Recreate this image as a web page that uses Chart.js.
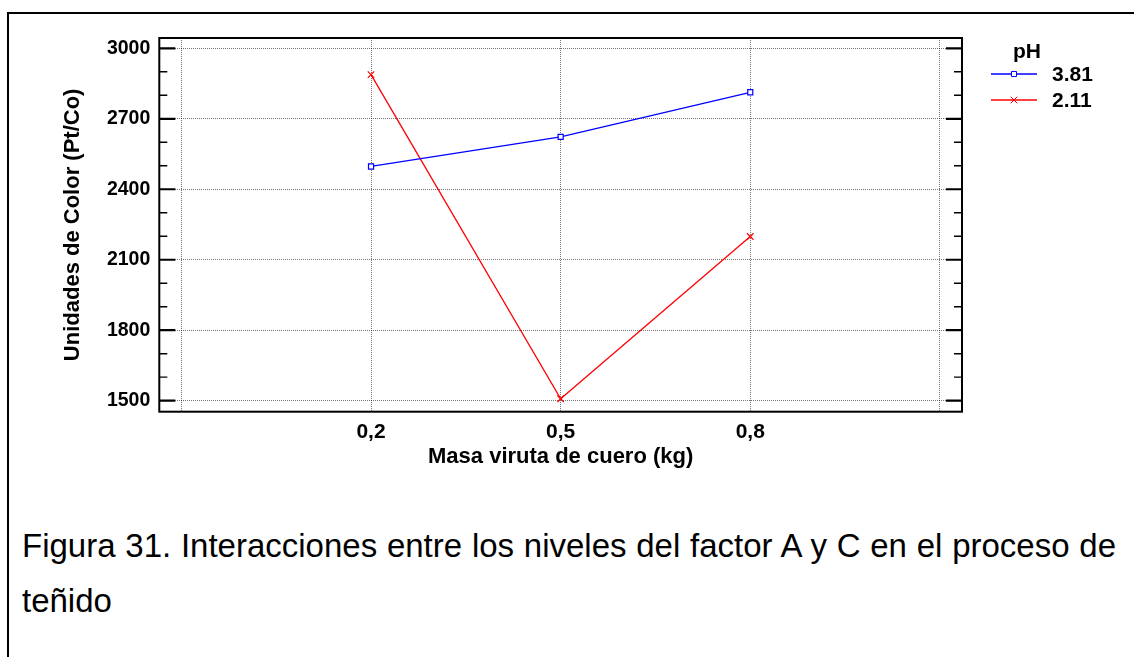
<!DOCTYPE html>
<html>
<head>
<meta charset="utf-8">
<script src="https://cdn.jsdelivr.net/npm/chart.js@4.4.1/dist/chart.umd.min.js"></script>
<style>
    html, body { margin: 0; padding: 0; background: #fff; }
    body { width: 1134px; height: 657px; position: relative; overflow: hidden; font-family: "Liberation Sans", Arial, sans-serif; }
    #frame { position: absolute; left: 7px; top: 12px; width: 1300px; height: 800px; border: 2px solid #000; }
    #wrap { position: absolute; left: 0; top: 0; width: 1134px; height: 480px; }
    #caption { position: absolute; left: 22px; top: 518px; width: 1094px; font-size: 33px; line-height: 55px; text-align: justify; color: #000; }
</style>
</head>
<body>
<div id="frame"></div>
<div id="wrap"><canvas id="interChart" width="1134" height="480"></canvas></div>
<div id="caption">Figura 31. Interacciones entre los niveles del factor A y C en el proceso de teñido</div>
<script>
// niveles del factor (masa de viruta, kg)
var masaLevels = [0.2, 0.5, 0.8];
var masaLabels = ['0,2', '0,5', '0,8'];
var xGridValues = [-0.1, 0.2, 0.5, 0.8, 1.1];

// unidades de color por nivel de pH
var ph381 = [2497, 2623, 2813];
var ph211 = [2888, 1508, 2199];
var seriesNames = ['3.81', '2.11'];

var yMajorTicks = [1500, 1800, 2100, 2400, 2700, 3000];
var yAllTicks = [1500, 1600, 1700, 1800, 1900, 2000, 2100, 2200, 2300, 2400, 2500, 2600, 2700, 2800, 2900, 3000];

Chart.defaults.font.family = '"Liberation Sans", Arial, sans-serif';
Chart.defaults.color = '#000';

function toPoints(vals) {
    return masaLevels.map(function (x, i) { return { x: x, y: vals[i] }; });
}

// frame + inner tick marks
var framePlugin = {
    id: 'frame',
    afterDatasetsDraw: function (chart) {
        var ctx = chart.ctx, a = chart.chartArea, ys = chart.scales.y;
        ctx.save();
        ctx.strokeStyle = '#000';
        yAllTicks.forEach(function (v) {
            var py = ys.getPixelForValue(v);
            var major = yMajorTicks.indexOf(v) >= 0;
            var len = major ? 16 : 8;
            ctx.lineWidth = major ? 2.2 : 1.4;
            ctx.beginPath();
            ctx.moveTo(a.left, py); ctx.lineTo(a.left + len, py);
            ctx.moveTo(a.right, py); ctx.lineTo(a.right - len, py);
            ctx.stroke();
        });
        ctx.lineWidth = 2;
        ctx.strokeRect(a.left, a.top, a.right - a.left, a.bottom - a.top);
        ctx.restore();
    }
};

// legend: line with marker in the middle
var legendPlugin = {
    id: 'phLegend',
    afterDraw: function (chart) {
        var ctx = chart.ctx, a = chart.chartArea;
        var x0 = a.right + 29, x1 = a.right + 75;
        ctx.save();
        ctx.fillStyle = '#000';
        ctx.font = 'bold 21px "Liberation Sans", Arial, sans-serif';
        ctx.textAlign = 'center';
        ctx.textBaseline = 'middle';
        ctx.fillText('pH', a.right + 65, a.top + 14);
        chart.data.datasets.forEach(function (ds, i) {
            var y = a.top + 36 + i * 26;
            ctx.strokeStyle = ds.borderColor;
            ctx.lineWidth = 1.3;
            ctx.beginPath();
            ctx.moveTo(x0, y); ctx.lineTo(x1, y);
            ctx.stroke();
            ctx.fillStyle = '#fff';
            ctx.lineWidth = 1;
            Chart.helpers.drawPoint(ctx, { pointStyle: ds.pointStyle, radius: ds.pointRadius, rotation: 0, borderWidth: 1 }, (x0 + x1) / 2, y);
            ctx.fillStyle = '#000';
            ctx.textAlign = 'left';
            ctx.fillText(ds.label, a.right + 90, y + 1);
        });
        ctx.restore();
    }
};

new Chart(document.getElementById('interChart').getContext('2d'), {
    type: 'line',
    data: {
        datasets: [{
            label: seriesNames[0],
            data: toPoints(ph381),
            borderColor: '#0000ff',
            backgroundColor: '#ffffff',
            borderWidth: 1.3,
            pointStyle: 'rect',
            pointRadius: 3.6,
            pointBorderWidth: 1.2,
            tension: 0
        }, {
            label: seriesNames[1],
            data: toPoints(ph211),
            borderColor: '#ff0000',
            backgroundColor: '#ff0000',
            borderWidth: 1.3,
            pointStyle: 'crossRot',
            pointRadius: 4.6,
            pointBorderWidth: 1.2,
            tension: 0
        }]
    },
    options: {
        responsive: false,
        animation: false,
        layout: { padding: { top: 38, right: 172, left: 0, bottom: 0 } },
        plugins: { legend: { display: false }, tooltip: { enabled: false } },
        scales: {
            x: {
                type: 'linear',
                min: -0.135,
                max: 1.135,
                afterFit: function (s) { s.height = 68.3; },
                afterBuildTicks: function (s) { s.ticks = xGridValues.map(function (v) { return { value: v }; }); },
                ticks: {
                    autoSkip: false,
                    maxRotation: 0,
                    padding: 8,
                    font: { size: 21, weight: 'bold' },
                    callback: function (v) {
                        var i = masaLevels.indexOf(Math.round(v * 10) / 10);
                        return i >= 0 ? masaLabels[i] : '';
                    }
                },
                grid: { color: 'rgba(0,0,0,0.55)', lineWidth: 1, drawTicks: false },
                border: { display: false, dash: [1, 1] },
                title: { display: true, text: 'Masa viruta de cuero (kg)', font: { size: 22, weight: 'bold' }, padding: { top: 0, bottom: 10 } }
            },
            y: {
                min: 1453,
                max: 3044,
                afterFit: function (s) { s.width = 159.3; },
                afterBuildTicks: function (s) { s.ticks = yAllTicks.map(function (v) { return { value: v }; }); },
                ticks: {
                    autoSkip: false,
                    padding: 9,
                    font: { size: 19.5, weight: 'bold' },
                    callback: function (v) { return yMajorTicks.indexOf(v) >= 0 ? String(v) : ''; }
                },
                grid: {
                    lineWidth: 1,
                    drawTicks: false,
                    color: function (c) { return c.tick && yMajorTicks.indexOf(c.tick.value) >= 0 ? 'rgba(0,0,0,0.55)' : 'rgba(0,0,0,0)'; }
                },
                border: { display: false, dash: [1, 1] },
                title: { display: true, text: 'Unidades de Color (Pt/Co)', font: { size: 22, weight: 'bold' }, padding: { top: 60, bottom: 0 } }
            }
        }
    },
    plugins: [framePlugin, legendPlugin]
});
</script>
</body>
</html>
